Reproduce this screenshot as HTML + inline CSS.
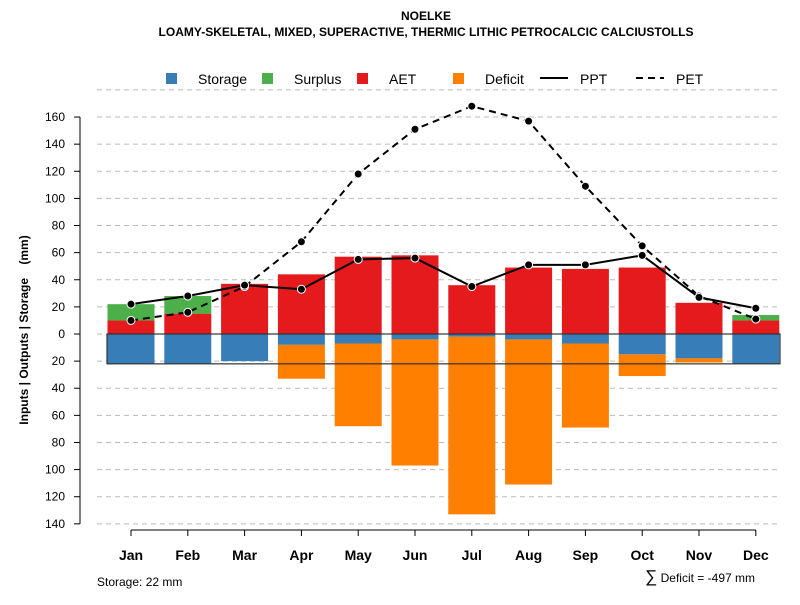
<!DOCTYPE html>
<html><head><meta charset="utf-8"><style>
body{margin:0;background:#fff;font-family:"Liberation Sans",sans-serif}
svg text{font-family:"Liberation Sans",sans-serif}
</style></head><body>
<svg id="c" width="800" height="600">
<text x="426" y="20" text-anchor="middle" font-size="12" font-weight="bold">NOELKE</text>
<text x="426" y="36" text-anchor="middle" font-size="12" font-weight="bold">LOAMY-SKELETAL, MIXED, SUPERACTIVE, THERMIC LITHIC PETROCALCIC CALCIUSTOLLS</text>
<g id="grid"></g><g id="bars"></g><g id="lines"></g><g id="axes"></g>
<g font-size="14">
<rect x="166" y="73" width="11" height="11" fill="#377EB8"/><text x="198" y="84">Storage</text>
<rect x="262" y="73" width="11" height="11" fill="#4DAF4A"/><text x="294" y="84">Surplus</text>
<rect x="357" y="73" width="11" height="11" fill="#E41A1C"/><text x="389" y="84">AET</text>
<rect x="453" y="73" width="11" height="11" fill="#FF7F00"/><text x="485" y="84">Deficit</text>
<line x1="540" y1="78" x2="568" y2="78" stroke="#000" stroke-width="2"/><text x="580" y="84">PPT</text>
<line x1="636" y1="78" x2="664" y2="78" stroke="#000" stroke-width="2" stroke-dasharray="7,5"/><text x="676" y="84">PET</text>
</g>
<text transform="translate(28,330) rotate(-90)" text-anchor="middle" font-size="12" font-weight="bold">Inputs | Outputs | Storage&#160;&#160;&#160;&#160;(mm)</text>
<text x="97" y="586" font-size="12">Storage: 22 mm</text>
<text x="755" y="582" text-anchor="end" font-size="12"><tspan font-size="17">∑</tspan> Deficit = -497 mm</text>
</svg>
<script>
const months=["Jan","Feb","Mar","Apr","May","Jun","Jul","Aug","Sep","Oct","Nov","Dec"];
const aet=[10,15,37,44,57,58,36,49,48,49,23,10];
const surplus=[12,13,0,0,0,0,0,0,0,0,0,4];
const storage=[22,22,20,8,7,4,2,4,7,15,18,22];
const deficit=[0,0,0,25,61,93,131,107,62,16,3,0];
const ppt=[22,28,36,33,55,56,35,51,51,58,27,19];
const pet=[10,16,35,68,118,151,168,157,109,65,28,11];
const yTicks=[160,140,120,100,80,60,40,20,0,20,40,60,80,100,120,140];
const yTickVals=[160,140,120,100,80,60,40,20,0,-20,-40,-60,-80,-100,-120,-140];
const NS="http://www.w3.org/2000/svg";
const y=v=>334-v*1.356;
const x=i=>131+i*56.8;
const bw=47;
function mk(g,t,a){const e=document.createElementNS(NS,t);for(const k in a)e.setAttribute(k,a[k]);document.getElementById(g).appendChild(e);return e;}
for(let v=180;v>=-180;v-=20){const yy=y(v);if(yy<88||yy>530)continue;
const l=mk('grid','line',{x1:97,x2:780,y1:yy,y2:yy,stroke:'#bbb','stroke-dasharray':'5,4'});

}
months.forEach((m,i)=>{
 const x0=x(i)-bw/2;
 const r1=mk('bars','rect',{x:x0,y:y(aet[i]),width:bw,height:y(0)-y(aet[i]),fill:'#E41A1C'});
 
 
 if(surplus[i]>0){const r=mk('bars','rect',{x:x0,y:y(aet[i]+surplus[i]),width:bw,height:y(aet[i])-y(aet[i]+surplus[i]),fill:'#4DAF4A'});
 
 }
 const r2=mk('bars','rect',{x:x0,y:y(0),width:bw,height:y(-storage[i])-y(0),fill:'#377EB8'});
 
 
 if(deficit[i]>0){const r=mk('bars','rect',{x:x0,y:y(-storage[i]),width:bw,height:y(-storage[i]-deficit[i])-y(-storage[i]),fill:'#FF7F00'});
 
 }
});
const box=mk('bars','rect',{x:107,y:y(0),width:673,height:y(-22)-y(0),fill:'none',stroke:'#333','stroke-width':1.2});


function series(arr,name,dash){
 const p=mk('lines','polyline',{points:arr.map((v,i)=>x(i)+','+y(v)).join(' '),fill:'none',stroke:'#000','stroke-width':2,'stroke-dasharray':dash});
 
 
 arr.forEach((v,i)=>{const c=mk('lines','circle',{cx:x(i),cy:y(v),r:4,fill:'#000',stroke:'#fff','stroke-width':1});
 
 });
}
series(pet,'pet','7,5');
series(ppt,'ppt','none');
const ya=mk('axes','line',{x1:80,x2:80,y1:y(160),y2:y(-140),stroke:'#000'});


yTickVals.forEach((v,k)=>{mk('axes','line',{x1:74,x2:80,y1:y(v),y2:y(v),stroke:'#000'});
 const t=mk('axes','text',{x:65,y:y(v)+4,'text-anchor':'end','font-size':12});t.textContent=yTicks[k];
 
 });
const xa=mk('axes','line',{x1:x(0),x2:x(11),y1:530,y2:530,stroke:'#000'});


months.forEach((m,i)=>{mk('axes','line',{x1:x(i),x2:x(i),y1:530,y2:536,stroke:'#000'});
 const t=mk('axes','text',{x:x(i),y:560,'text-anchor':'middle','font-size':14,'font-weight':'bold'});t.textContent=m;
 
 });
</script>
</body></html>
